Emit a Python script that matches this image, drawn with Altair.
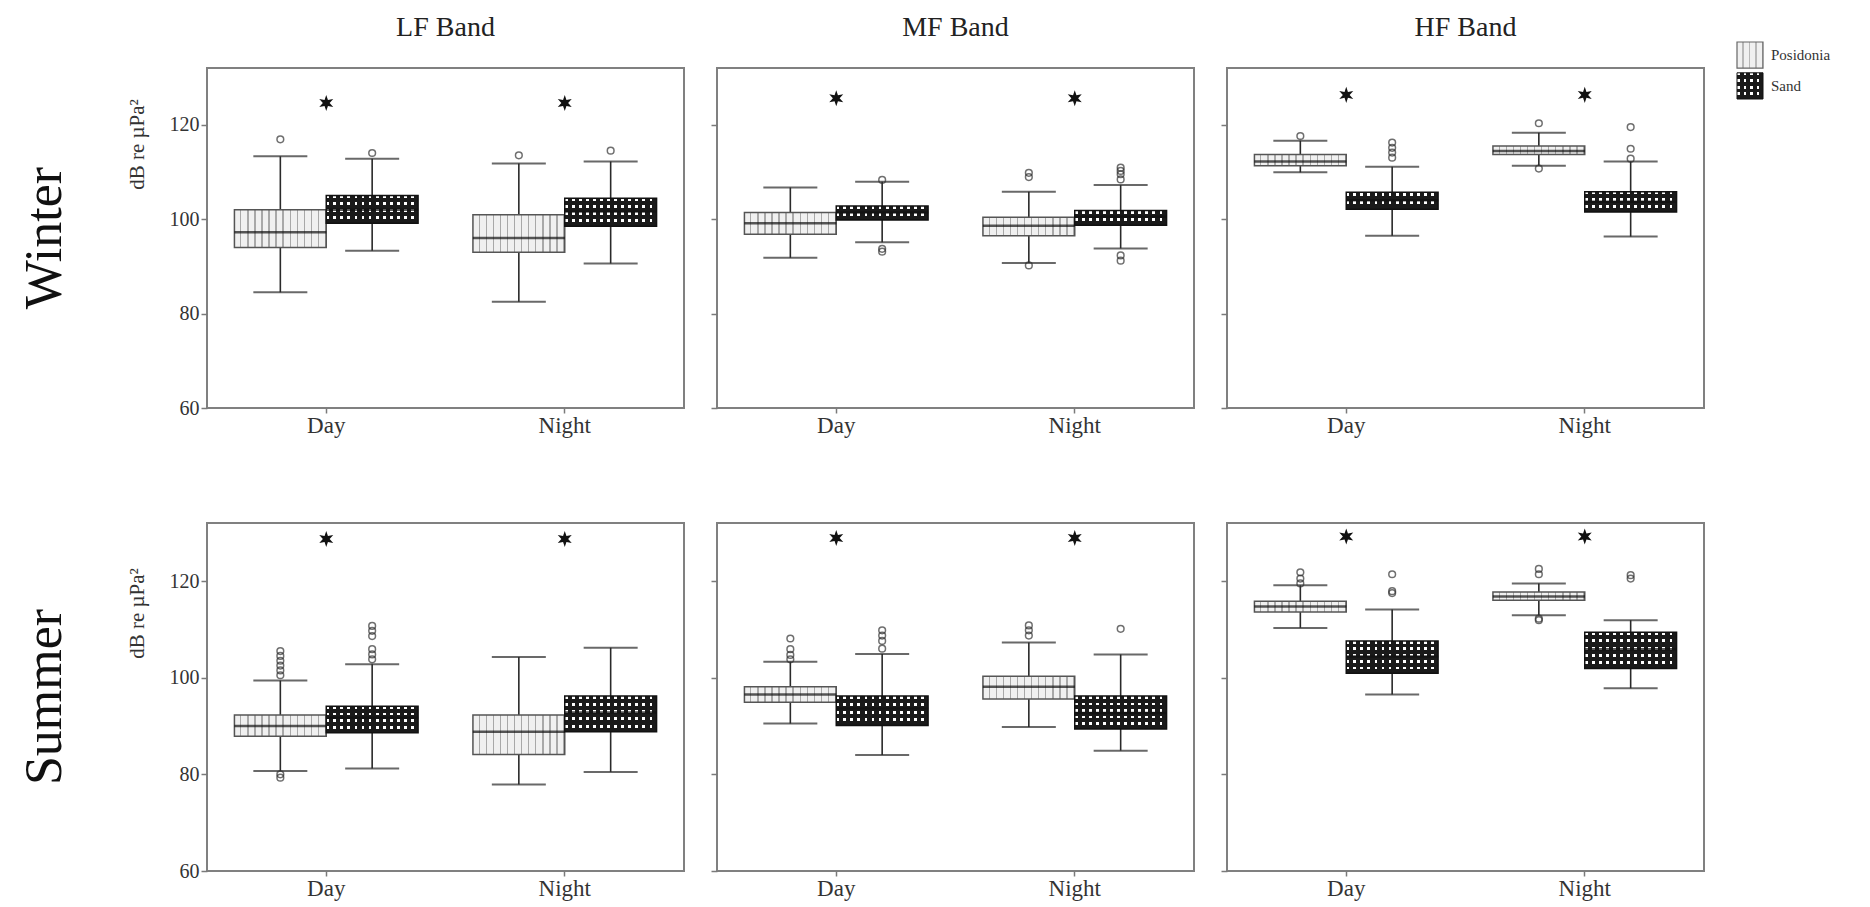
import math
import altair as alt
import pandas as pd

FONT = "Liberation Serif"

# ---------------- data ----------------
seasons = ["Winter", "Summer"]
bands = ["LF Band", "MF Band", "HF Band"]
times = ["Day", "Night"]
types = ["Posidonia", "Sand"]

# order of boxes: season -> band -> time -> type
whisker_low = [84.5, 93.3, 82.5, 90.6, 91.8, 95.1, 90.7, 93.8, 109.9, 96.5, 111.3, 96.3,
               80.7, 81.2, 77.9, 80.5, 90.5, 84.0, 89.8, 84.9, 110.3, 96.5, 112.9, 97.8]
q1 = [94.0, 99.1, 93.0, 98.5, 96.8, 99.8, 96.5, 98.7, 111.3, 102.1, 113.7, 101.5,
      87.9, 88.6, 84.1, 88.8, 94.9, 90.1, 95.6, 89.4, 113.6, 100.9, 116.0, 101.9]
median = [97.2, 102.0, 96.0, 101.6, 99.1, 101.4, 98.6, 100.5, 112.2, 104.0, 114.4, 103.7,
          90.0, 91.7, 88.8, 92.8, 96.5, 93.6, 98.1, 92.7, 114.7, 104.4, 116.8, 105.9]
q3 = [102.0, 105.0, 100.9, 104.4, 101.4, 102.8, 100.4, 101.8, 113.7, 105.7, 115.5, 105.8,
      92.3, 94.1, 92.3, 96.2, 98.1, 96.2, 100.3, 96.2, 115.8, 107.6, 117.7, 109.4]
whisker_high = [113.3, 112.8, 111.8, 112.2, 106.7, 107.9, 105.8, 107.2, 116.6, 111.1, 118.3, 112.2,
                99.4, 102.8, 104.3, 106.2, 103.3, 104.9, 107.3, 104.8, 119.1, 114.1, 119.5, 111.9]
outliers = [[116.9], [114.0], [113.5], [114.5],
            [], [108.3, 93.7, 93.1], [109.8, 108.9, 90.2], [110.9, 110.2, 109.5, 108.4, 92.3, 91.2],
            [117.6], [116.2, 115.1, 114.1, 113.0], [120.3, 110.7], [119.5, 114.9, 112.8],
            [105.5, 104.5, 103.5, 102.5, 101.5, 100.5, 80.0, 79.3],
            [110.7, 109.7, 108.6, 105.9, 104.8, 103.8], [], [],
            [108.1, 105.9, 104.7, 103.8], [109.8, 108.7, 107.6, 106.0], [110.8, 109.8, 108.7], [110.1],
            [121.8, 120.5, 119.5], [121.4, 117.9, 117.5], [122.5, 121.4, 112.2, 111.9], [121.2, 120.5]]
# significance stars (one per time of day) by band
star_winter = [124.6, 125.6, 126.3]
star_summer = [128.7, 128.9, 129.2]
y_ticks = [60, 80, 100, 120]
y_domain = [60, 132]
y_title = "dB re µPa²"

# ---------------- tables ----------------
box_rows, out_rows, star_rows = [], [], []
i = 0
for s in seasons:
    for b in bands:
        for t in times:
            for ty in types:
                box_rows.append(dict(season=s, band=b, time=t, type=ty,
                                     low=whisker_low[i], q1=q1[i], median=median[i],
                                     q3=q3[i], high=whisker_high[i]))
                for v in outliers[i]:
                    out_rows.append(dict(season=s, band=b, time=t, type=ty, value=v))
                i += 1
for s, levels in zip(seasons, [star_winter, star_summer]):
    for b, lv in zip(bands, levels):
        for t in times:
            star_rows.append(dict(season=s, band=b, time=t, value=lv))
box_df = pd.DataFrame(box_rows)
out_df = pd.DataFrame(out_rows)
star_df = pd.DataFrame(star_rows)

# ---------------- styling helpers ----------------
W = 477
H = {"Winter": 340, "Summer": 348}
BOX_W = 92
PITCH = 7.0


def stripes(n, bg, line, frac, vertical):
    stops = []
    for k in range(n):
        a = k / n
        b = (k + 1) / n
        m = a + (b - a) * (1 - frac)
        stops += [alt.GradientStop(offset=a, color=bg), alt.GradientStop(offset=m, color=bg),
                  alt.GradientStop(offset=m, color=line), alt.GradientStop(offset=b, color=line)]
    if vertical:
        return alt.LinearGradient(gradient="linear", stops=stops, x1=0, x2=1, y1=0, y2=0)
    return alt.LinearGradient(gradient="linear", stops=stops, x1=0, x2=0, y1=0, y2=1)


CLEAR = "rgba(0,0,0,0)"
DARK = "#1a1a1a"
DARK_FRAC = 0.6
pos_fill = stripes(13, "#f0f0f0", "#a8a8a8", 0.2, True)
sand_vfill = stripes(13, CLEAR, DARK, DARK_FRAC, True)

# six-pointed star symbol
pts = []
for k in range(12):
    ang = -math.pi / 2 + k * math.pi / 6
    r = 1.0 if k % 2 == 0 else 0.42
    pts.append(f"{r * math.cos(ang):.3f},{r * math.sin(ang):.3f}")
STAR = "M" + " L".join(pts) + " Z"

XS = alt.Scale(type="band", domain=times, paddingInner=0.23, paddingOuter=0.115)
XO = alt.Scale(type="band", domain=types, paddingInner=0, paddingOuter=0)
YS = alt.Scale(domain=y_domain, nice=False, zero=False)


def panel(season, band, show_y, title):
    h = H[season]
    bd = box_df[(box_df.season == season) & (box_df.band == band)]
    od = out_df[(out_df.season == season) & (out_df.band == band)]
    sd = star_df[(star_df.season == season) & (star_df.band == band)]

    x_axis = alt.Axis(title=None, labelAngle=0, tickSize=5, labelPadding=1, labelFontSize=23)
    if show_y:
        y_axis = alt.Axis(values=y_ticks, title=y_title, tickSize=6, labelPadding=2,
                          titleX=-70, titleY=76 if season == "Winter" else 90,
                          titleAngle=-90, titleAlign="center", titleBaseline="middle")
    else:
        y_axis = alt.Axis(values=y_ticks, title=None, labels=False, tickSize=6)

    X = alt.X("time:N", scale=XS, axis=x_axis)
    XOff = alt.XOffset("type:N", scale=XO)

    def Y(field):
        return alt.Y(f"{field}:Q", scale=YS, axis=y_axis)

    base = alt.Chart(bd)
    sand = base.transform_filter(alt.datum.type == "Sand")
    layers = [
        base.mark_rule(color="#2a2a2a", strokeWidth=1.6).encode(
            x=X, xOffset=XOff, y=Y("low"), y2="high:Q"),
        base.mark_tick(color="#2a2a2a", size=54, thickness=2).encode(
            x=X, xOffset=XOff, y=Y("low")),
        base.mark_tick(color="#2a2a2a", size=54, thickness=2).encode(
            x=X, xOffset=XOff, y=Y("high")),
        base.transform_filter(alt.datum.type == "Posidonia").mark_bar(
            fill=pos_fill, stroke="#555555", strokeWidth=1.5).encode(
            x=X, xOffset=XOff, y=Y("q1"), y2="q3:Q"),
        sand.mark_bar(fill="#ffffff").encode(x=X, xOffset=XOff, y=Y("q1"), y2="q3:Q"),
        sand.mark_bar(fill=sand_vfill).encode(x=X, xOffset=XOff, y=Y("q1"), y2="q3:Q"),
    ]
    for _, r in bd[bd.type == "Sand"].iterrows():
        px = (r.q3 - r.q1) / (y_domain[1] - y_domain[0]) * h
        n = max(1, int(round(px / PITCH)))
        layers.append(
            base.transform_filter((alt.datum.type == "Sand") & (alt.datum.time == r.time)).mark_bar(
                fill=stripes(n, CLEAR, DARK, DARK_FRAC, False)).encode(
                x=X, xOffset=XOff, y=Y("q1"), y2="q3:Q"))
    layers += [
        sand.mark_bar(fillOpacity=0, stroke="#111111", strokeWidth=1.5).encode(
            x=X, xOffset=XOff, y=Y("q1"), y2="q3:Q"),
        base.mark_tick(color="#111111", size=BOX_W, thickness=2.5).encode(
            x=X, xOffset=XOff, y=Y("median")),
        alt.Chart(od).mark_point(shape="circle", filled=False, size=45, color="#333333",
                                 strokeWidth=1.5).encode(x=X, xOffset=XOff, y=Y("value")),
        alt.Chart(sd).mark_point(shape=STAR, filled=True, size=260, color="#111111",
                                 opacity=1).encode(x=X, y=Y("value")),
    ]
    ch = alt.layer(*layers).properties(
        width=W, height=h, view=alt.ViewBackground(stroke="#808080", strokeWidth=2))
    if title:
        ch = ch.properties(title=alt.TitleParams(title, fontSize=28, font=FONT, fontWeight="normal",
                                                 color="#222222", offset=26))
    return ch


def row_label(season):
    return alt.Chart(pd.DataFrame({"season": [season]})).mark_text(
        angle=270, font=FONT, fontSize=52, color="#111111").encode(
        text="season:N").properties(width=62, height=H[season],
                                    view=alt.ViewBackground(stroke="transparent"))


# legend drawn as a small chart of its own
leg_df = pd.DataFrame({"item": types})
YL = alt.Y("item:N", scale=alt.Scale(type="band", domain=types, range=[-26, 31],
                                     paddingInner=0.15, paddingOuter=0), axis=None)
lb = alt.Chart(leg_df)
lsand = lb.transform_filter(alt.datum.item == "Sand")
legend = alt.layer(
    lb.transform_filter(alt.datum.item == "Posidonia").mark_bar(
        fill=stripes(4, "#f0f0f0", "#b8b8b8", 0.2, True), stroke="#666666", strokeWidth=1.2).encode(
        x=alt.value(0), x2=alt.value(26), y=YL),
    lsand.mark_bar(fill="#ffffff").encode(x=alt.value(0), x2=alt.value(26), y=YL),
    lsand.mark_bar(fill=stripes(4, CLEAR, DARK, DARK_FRAC, True)).encode(
        x=alt.value(0), x2=alt.value(26), y=YL),
    lsand.mark_bar(fill=stripes(4, CLEAR, DARK, DARK_FRAC, False), stroke="#111111",
                   strokeWidth=1).encode(x=alt.value(0), x2=alt.value(26), y=YL),
    lb.mark_text(align="left", baseline="middle", font=FONT, fontSize=15, color="#333333").encode(
        x=alt.value(34), y=YL, text="item:N"),
).properties(width=90, height=H["Winter"], view=alt.ViewBackground(stroke="transparent"))

top_inner = alt.hconcat(panel("Winter", "LF Band", True, "LF Band"),
                        panel("Winter", "MF Band", False, "MF Band"),
                        panel("Winter", "HF Band", False, "HF Band"),
                        legend, spacing=33, bounds="flush")
bot_inner = alt.hconcat(panel("Summer", "LF Band", True, None),
                        panel("Summer", "MF Band", False, None),
                        panel("Summer", "HF Band", False, None),
                        spacing=33, bounds="flush")
top = alt.hconcat(row_label("Winter"), top_inner, spacing=131, bounds="flush")
bot = alt.hconcat(row_label("Summer"), bot_inner, spacing=131, bounds="flush")

chart = alt.vconcat(top, bot, spacing=84).properties(
    background="white"
).configure_axis(
    labelFont=FONT, labelFontSize=20, labelColor="#333333",
    titleFont=FONT, titleFontSize=21, titleFontWeight="normal", titleColor="#333333",
    tickColor="#7a7a7a", tickWidth=1.5, domain=False, grid=False
).configure_view(stroke="#808080", strokeWidth=2)

chart.save("out.html", embed_options={"renderer": "svg", "actions": False})
